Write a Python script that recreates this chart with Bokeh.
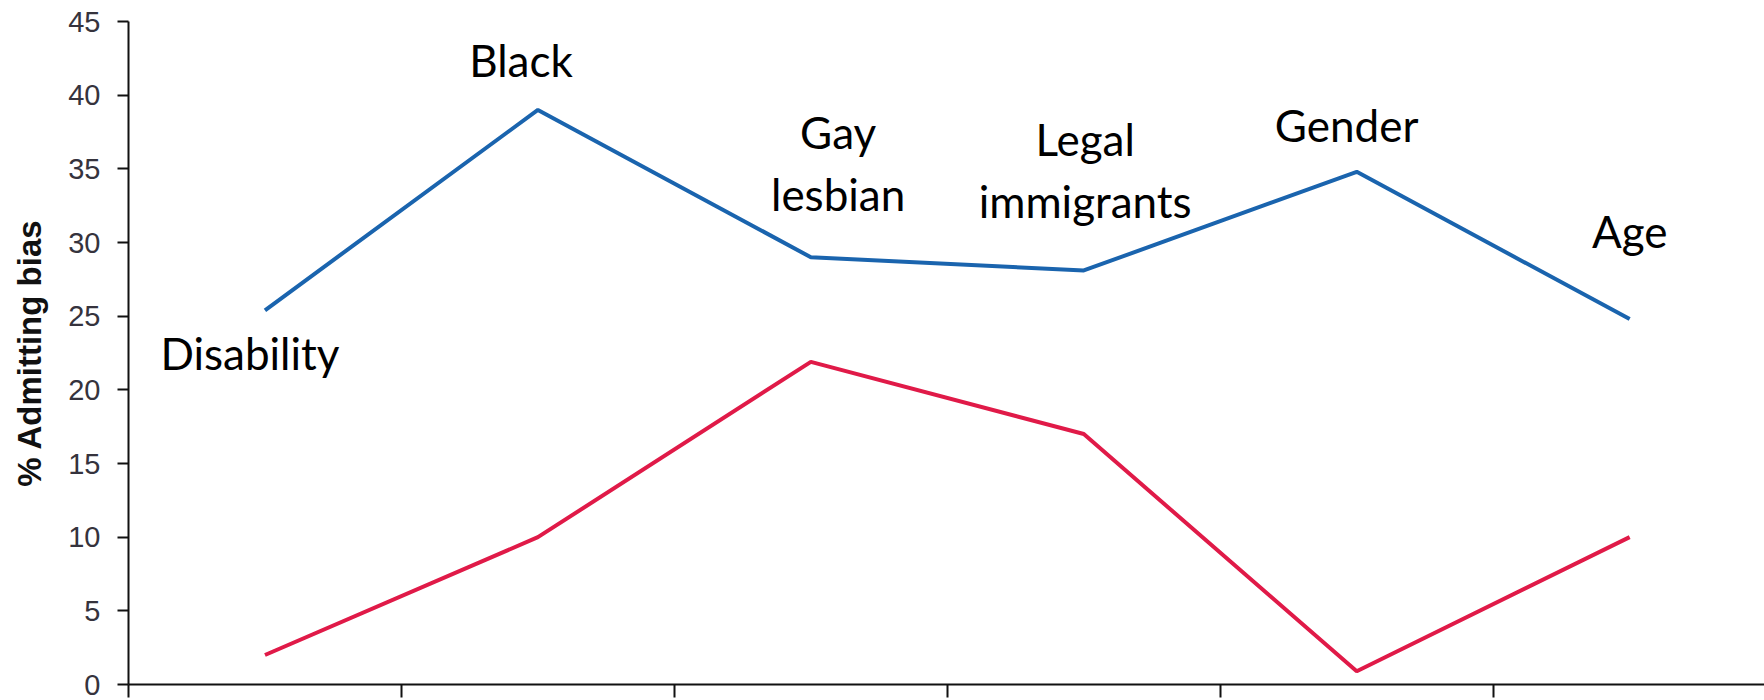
from bokeh.plotting import figure
from bokeh.models import Range1d, FixedTicker, ColumnDataSource
from bokeh.core.properties import value
from bokeh.embed import file_html
from bokeh.resources import INLINE
import numpy as np

categories = ["Disability", "Black", "Gay\nlesbian", "Legal\nimmigrants", "Gender", "Age"]
series_blue = [25.4, 39.0, 29.0, 28.1, 34.8, 24.8]
series_red = [2.0, 10.0, 21.9, 17.0, 0.9, 10.0]
y_ticks = [0, 5, 10, 15, 20, 25, 30, 35, 40, 45]

# label anchor placement (data units)
label_dx = [-0.055, -0.062, 0.1, 0.005, -0.037, 0.0]
label_y = [22.5, 42.4, 35.4, 34.9, 38.0, 30.75]

x = np.arange(len(categories)) + 0.5

p = figure(width=1764, height=700, output_backend="svg", toolbar_location=None,
           x_range=Range1d(0, 5.994), y_range=Range1d(0, 45))
p.min_border_left = 128
p.min_border_top = 21
p.min_border_right = 0
p.min_border_bottom = 16
p.outline_line_color = None
p.grid.visible = False
p.background_fill_color = "white"
p.border_fill_color = "white"

p.line(x, series_blue, line_color="#1a64ae", line_width=4)
p.line(x, series_red, line_color="#e01a48", line_width=4)

src = ColumnDataSource(dict(x=x + np.array(label_dx), y=label_y, t=categories))
p.text(x="x", y="y", text="t", source=src, text_align="center", text_baseline="middle",
       text_font=value("Lato"), text_font_size="44px", text_color="black", text_line_height=1.2)

ya = p.yaxis[0]
ya.ticker = FixedTicker(ticks=y_ticks)
ya.axis_label = "% Admitting bias"
ya.axis_label_text_font = "Liberation Sans"
ya.axis_label_text_font_style = "bold"
ya.axis_label_text_font_size = "33px"
ya.axis_label_text_color = "#111111"
ya.axis_label_standoff = 17
ya.major_label_text_font = "Liberation Sans"
ya.major_label_text_font_size = "29px"
ya.major_label_text_color = "#35333d"
ya.major_label_standoff = 17
ya.major_tick_in = 0
ya.major_tick_out = 11
ya.minor_tick_in = 0
ya.minor_tick_out = 0
ya.axis_line_width = 2
ya.major_tick_line_width = 2
ya.axis_line_color = "#111111"
ya.major_tick_line_color = "#111111"

xa = p.xaxis[0]
xa.ticker = FixedTicker(ticks=list(range(len(categories) + 1)))
xa.major_label_overrides = {i: "" for i in range(len(categories) + 1)}
xa.major_label_text_font_size = "0px"
xa.major_label_standoff = 0
xa.major_tick_in = 0
xa.major_tick_out = 13
xa.minor_tick_in = 0
xa.minor_tick_out = 0
xa.axis_line_width = 2
xa.major_tick_line_width = 2
xa.axis_line_color = "#111111"
xa.major_tick_line_color = "#111111"

open("out.html", "w").write(file_html(p, INLINE))
